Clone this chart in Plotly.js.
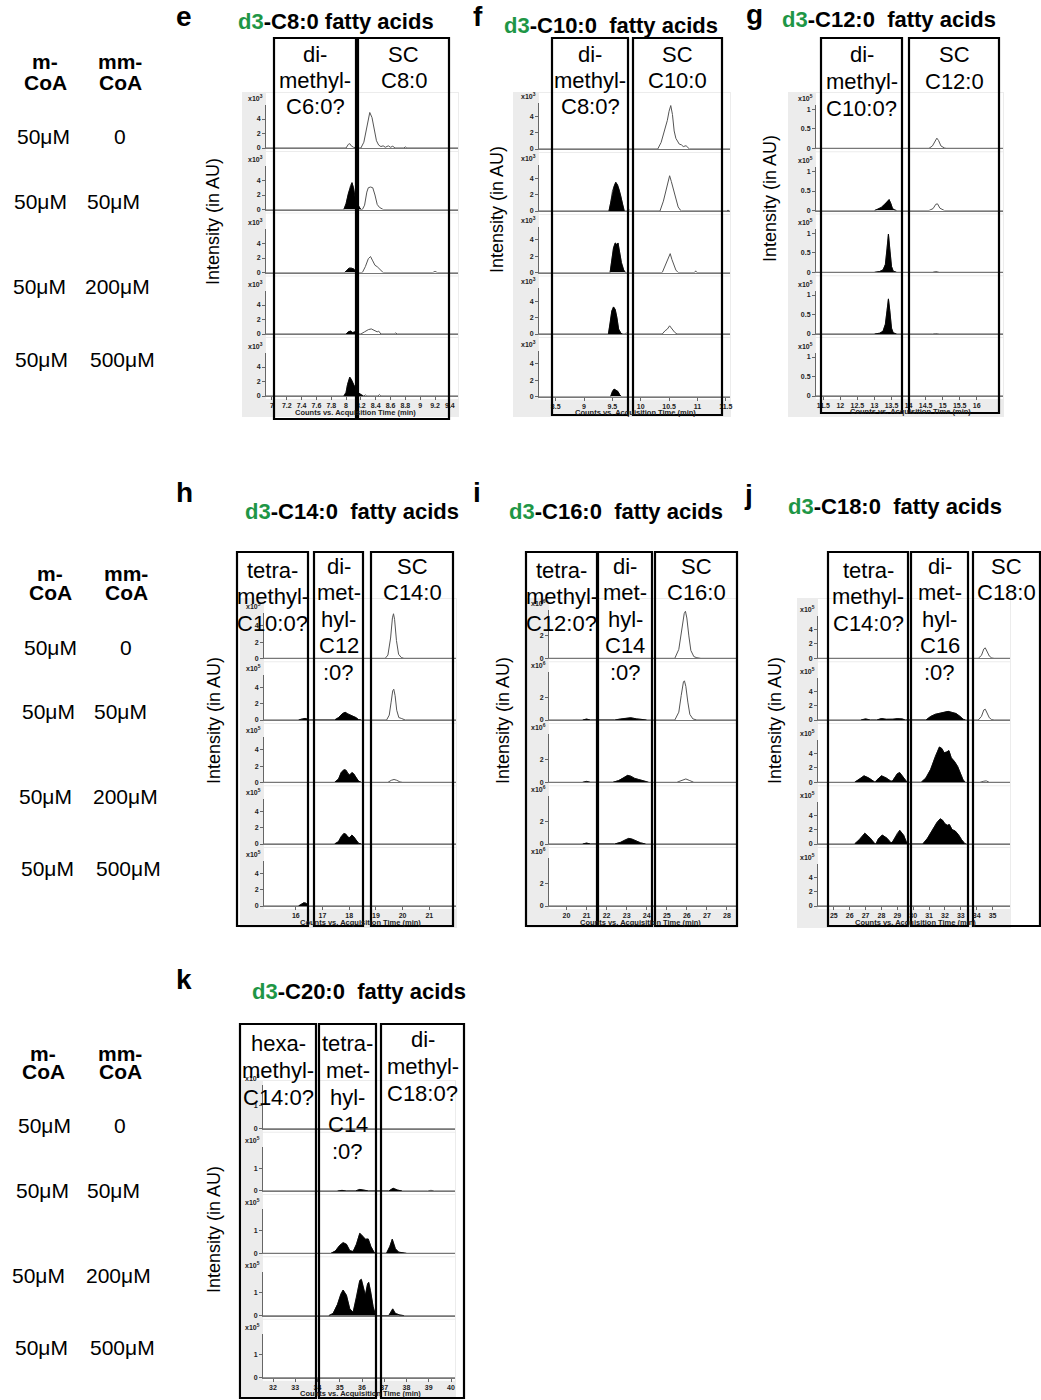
<!DOCTYPE html>
<html><head><meta charset="utf-8">
<script src="https://cdn.plot.ly/plotly-3.0.1.min.js"></script>
<style>body{margin:0;background:#fff}</style>
</head><body><div id="chart" style="width:1041px;height:1400px"></div>
<script>
// ---------------- DATA ----------------
const panelLetters = ['e','f','g','h','i','j','k'];
const panelCompounds = ['C8:0','C10:0','C12:0','C14:0','C16:0','C18:0','C20:0'];
const expLabels = ['3','3','5','5','6','5','5'];
const mCoA = ['50μM','50μM','50μM','50μM'];
const mmCoA = ['0','50μM','200μM','500μM'];
const yAxisTitle = 'Intensity (in AU)';
const xAxisTitle = 'Counts vs. Acquisition Time (min)';

const eBoxLabels = [['di-','methyl-','C6:0?'],['SC','C8:0']];
const fBoxLabels = [['di-','methyl-','C8:0?'],['SC','C10:0']];
const gBoxLabels = [['di-','methyl-','C10:0?'],['SC','C12:0']];
const hBoxLabels = [['tetra-','methyl-','C10:0?'],['di-','met-','hyl-','C12',':0?'],['SC','C14:0']];
const iBoxLabels = [['tetra-','methyl-','C12:0?'],['di-','met-','hyl-','C14',':0?'],['SC','C16:0']];
const jBoxLabels = [['tetra-','methyl-','C14:0?'],['di-','met-','hyl-','C16',':0?'],['SC','C18:0']];
const kBoxLabels = [['hexa-','methyl-','C14:0?'],['tetra-','met-','hyl-','C14',':0?'],['di-','methyl-','C18:0?']];

const eXticks = [7,7.2,7.4,7.6,7.8,8,8.2,8.4,8.6,8.8,9,9.2,9.4];
const fXticks = [8.5,9,9.5,10,10.5,11,11.5];
const gXticks = [11.5,12,12.5,13,13.5,14,14.5,15,15.5,16];
const hXticks = [16,17,18,19,20,21];
const iXticks = [20,21,22,23,24,25,26,27,28];
const jXticks = [25,26,27,28,29,30,31,32,33,34,35];
const kXticks = [32,33,34,35,36,37,38,39,40];

const eYticks = [0,2,4];
const fYticks = [0,2,4];
const gYticks = [0,0.5,1];
const hYticks = [0,2,4];
const iYticks = [0,2];
const jYticks = [0,2,4];
const kYticks = [0,1];

// chromatograms: [time (min), intensity] per row (5 stacked traces per panel)
const eLine = [
 [[8.0,0],[8.03,0.5],[8.05,0.6],[8.07,0.3],[8.1,0.1],[8.15,0],[8.2,0],[8.24,0.8],[8.28,2.8],[8.32,4.9],[8.35,4.2],[8.38,2.5],[8.41,1.0],[8.44,0.4],[8.47,0.2],[8.5,0.3],[8.53,0.1],[8.57,0.3],[8.6,0.1],[8.63,0.25],[8.66,0],[8.78,0],[8.8,0.15],[8.82,0]],
 [[8.22,0],[8.25,0.6],[8.28,2.4],[8.3,3.0],[8.33,3.1],[8.36,3.0],[8.39,2.0],[8.42,0.7],[8.45,0.3],[8.48,0.1],[8.5,0]],
 [[8.22,0],[8.26,0.8],[8.3,1.9],[8.33,2.2],[8.36,1.6],[8.39,1.0],[8.42,0.8],[8.45,0.5],[8.48,0.1],[8.5,0],[9.17,0],[9.2,0.15],[9.23,0]],
 [[8.2,0],[8.25,0.3],[8.3,0.6],[8.34,0.7],[8.38,0.5],[8.42,0.3],[8.44,0.4],[8.47,0],[8.65,0],[8.67,0.15],[8.69,0]],
 [[8.24,0],[8.26,0.15],[8.28,0],[8.43,0],[8.45,0.2],[8.47,0]]
];
const eFill = [
 [],
 [[7.97,0],[8.0,0.8],[8.03,2.2],[8.06,3.3],[8.08,3.7],[8.1,3.0],[8.12,1.8],[8.15,0.8],[8.18,0.3],[8.2,0]],
 [[7.98,0],[8.01,0.3],[8.04,0.6],[8.07,0.6],[8.1,0.5],[8.13,0.2],[8.17,0]],
 [[8.0,0],[8.03,0.3],[8.06,0.4],[8.09,0.2],[8.12,0.3],[8.16,0]],
 [[7.97,0],[8.0,0.5],[8.02,1.6],[8.05,2.6],[8.07,2.3],[8.1,1.6],[8.13,1.0],[8.16,0.5],[8.2,0.2],[8.23,0]]
];
const fLine = [
 [[10.3,0],[10.36,0.8],[10.42,2.2],[10.47,3.5],[10.5,4.6],[10.53,5.3],[10.56,4.2],[10.59,2.2],[10.62,1.3],[10.65,0.9],[10.68,0.6],[10.72,0.5],[10.75,0.3],[10.8,0.4],[10.83,0.2],[10.86,0]],
 [[9.78,0],[9.8,0.12],[9.82,0],[10.34,0],[10.4,1.2],[10.45,2.8],[10.49,3.8],[10.51,4.3],[10.54,3.6],[10.58,2.6],[10.62,1.4],[10.66,0.5],[10.7,0.1],[10.72,0],[11.52,0],[11.54,0.12],[11.56,0]],
 [[10.38,0],[10.44,0.9],[10.49,1.8],[10.52,2.3],[10.55,1.6],[10.58,1.0],[10.62,0.3],[10.66,0],[10.95,0],[10.97,0.2],[10.99,0]],
 [[9.73,0],[9.75,0.15],[9.77,0],[10.38,0],[10.43,0.4],[10.47,0.6],[10.51,1.0],[10.55,0.6],[10.6,0.2],[10.64,0]],
 []
];
const fFill = [
 [],
 [[9.44,0],[9.47,1.0],[9.5,2.4],[9.53,3.0],[9.56,3.5],[9.59,3.2],[9.62,2.6],[9.65,1.8],[9.68,0.8],[9.71,0]],
 [[9.46,0],[9.49,1.5],[9.52,3.0],[9.55,3.6],[9.58,3.4],[9.6,3.6],[9.63,2.5],[9.66,1.2],[9.7,0.3],[9.73,0]],
 [[9.43,0],[9.46,1.2],[9.49,2.8],[9.52,3.3],[9.55,3.0],[9.58,2.0],[9.61,0.6],[9.65,0.1],[9.68,0]],
 [[9.47,0],[9.5,0.6],[9.53,0.9],[9.56,0.8],[9.6,0.6],[9.63,0.2],[9.66,0]]
];
const gLine = [
 [[14.6,0],[14.7,0.06],[14.77,0.18],[14.83,0.26],[14.88,0.2],[14.95,0.06],[15.05,0.01],[15.1,0]],
 [[14.6,0],[14.72,0.05],[14.8,0.16],[14.85,0.17],[14.92,0.06],[15.0,0.01],[15.05,0]],
 [[14.7,0],[14.8,0.02],[14.9,0]],
 [[14.7,0],[14.8,0.01],[14.9,0]],
 [[13.4,0],[13.45,0.01],[13.5,0]]
];
const gFill = [
 [],
 [[13.0,0],[13.1,0.03],[13.2,0.08],[13.3,0.16],[13.38,0.25],[13.43,0.28],[13.48,0.18],[13.53,0.05],[13.6,0.01],[13.65,0]],
 [[13.0,0],[13.15,0.02],[13.25,0.06],[13.32,0.2],[13.37,0.6],[13.41,0.98],[13.45,0.6],[13.5,0.15],[13.55,0.03],[13.65,0]],
 [[13.0,0],[13.15,0.02],[13.25,0.07],[13.32,0.25],[13.37,0.6],[13.41,0.9],[13.45,0.6],[13.5,0.15],[13.55,0.03],[13.65,0]],
 []
];
const hLine = [
 [[19.35,0],[19.45,0.4],[19.55,2.5],[19.62,5.0],[19.66,5.5],[19.7,4.8],[19.77,2.2],[19.85,0.5],[19.95,0.1],[20.05,0]],
 [[19.4,0],[19.5,0.6],[19.57,2.2],[19.63,3.6],[19.67,3.8],[19.72,3.0],[19.78,1.2],[19.86,0.3],[19.95,0.2],[20.1,0]],
 [[19.45,0],[19.58,0.25],[19.68,0.35],[19.78,0.25],[19.9,0.05],[20.0,0]],
 [[19.5,0],[19.65,0.08],[19.8,0]],
 []
];
const hFill = [
 [],
 [[16.1,0],[16.25,0.15],[16.35,0.2],[16.45,0.1],[16.5,0],[17.45,0],[17.6,0.3],[17.75,0.8],[17.85,0.95],[17.95,0.75],[18.05,0.6],[18.15,0.55],[18.25,0.3],[18.35,0.05],[18.45,0]],
 [[17.45,0],[17.6,0.4],[17.7,1.2],[17.8,1.55],[17.88,1.5],[17.95,1.1],[18.02,0.9],[18.1,1.2],[18.17,1.05],[18.25,0.6],[18.35,0.15],[18.45,0]],
 [[17.45,0],[17.6,0.3],[17.7,0.9],[17.8,1.3],[17.88,1.2],[17.95,0.85],[18.02,0.8],[18.1,1.1],[18.17,0.9],[18.25,0.5],[18.35,0.1],[18.45,0]],
 [[16.1,0],[16.2,0.2],[16.3,0.4],[16.38,0.35],[16.45,0.2],[16.5,0]]
];
const iLine = [
 [[25.4,0],[25.6,0.8],[25.75,2.6],[25.87,4.0],[25.93,4.2],[26.0,3.6],[26.1,2.0],[26.2,0.7],[26.35,0.15],[26.5,0.05],[26.7,0]],
 [[25.4,0],[25.6,0.7],[25.72,2.2],[25.83,3.4],[25.88,3.5],[25.95,3.0],[26.05,1.6],[26.15,0.5],[26.3,0.1],[26.5,0]],
 [[25.5,0],[25.75,0.2],[25.95,0.3],[26.15,0.15],[26.35,0]],
 [[25.7,0],[25.9,0.05],[26.1,0]],
 [[19.85,0],[20.0,0.05],[20.15,0]]
];
const iFill = [
 [],
 [[20.8,0],[21.0,0.08],[21.2,0],[22.4,0],[22.7,0.1],[23.0,0.2],[23.2,0.2],[23.5,0.1],[23.8,0.03],[24.0,0]],
 [[20.8,0],[21.0,0.08],[21.2,0],[22.3,0],[22.6,0.15],[22.85,0.4],[23.05,0.62],[23.2,0.55],[23.4,0.35],[23.6,0.25],[23.85,0.1],[24.1,0]],
 [[20.8,0],[21.0,0.08],[21.2,0],[22.4,0],[22.7,0.15],[22.9,0.35],[23.1,0.5],[23.25,0.45],[23.45,0.3],[23.7,0.1],[23.95,0]],
 []
];
const jLine = [
 [[34.1,0],[34.3,0.4],[34.45,1.3],[34.54,1.45],[34.65,1.0],[34.8,0.3],[34.95,0.05],[35.1,0]],
 [[34.1,0],[34.3,0.5],[34.45,1.4],[34.54,1.5],[34.65,1.0],[34.8,0.3],[34.95,0.05],[35.1,0]],
 [[34.2,0],[34.45,0.15],[34.6,0.2],[34.8,0]],
 [],
 []
];
const jFill = [
 [],
 [[26.7,0],[27.0,0.15],[27.3,0],[27.7,0],[28.0,0.2],[28.3,0.1],[28.7,0.1],[29.0,0.2],[29.3,0.15],[29.5,0],[30.8,0],[31.1,0.5],[31.4,0.8],[31.7,0.95],[32.0,1.1],[32.2,1.2],[32.45,1.05],[32.7,0.9],[32.95,0.5],[33.15,0.1],[33.3,0]],
 [[26.3,0],[26.6,0.4],[26.9,0.9],[27.2,0.6],[27.5,0.1],[27.6,0],[27.7,0.3],[28.0,0.9],[28.3,0.6],[28.6,0.15],[28.7,0.2],[29.0,1.2],[29.15,1.35],[29.4,0.7],[29.6,0.05],[29.7,0],[30.5,0],[30.8,0.6],[31.1,1.8],[31.4,3.6],[31.65,4.9],[31.8,4.7],[31.95,4.1],[32.1,4.2],[32.25,4.4],[32.4,3.4],[32.6,2.9],[32.8,2.2],[33.0,1.0],[33.15,0.3],[33.3,0]],
 [[26.3,0],[26.6,0.6],[26.95,1.5],[27.3,0.8],[27.55,0.1],[27.65,0],[27.8,0.7],[28.05,1.25],[28.35,0.8],[28.6,0.15],[28.7,0.3],[29.0,1.5],[29.15,1.9],[29.4,1.2],[29.6,0.1],[29.7,0],[30.6,0],[30.9,0.8],[31.2,2.0],[31.5,3.0],[31.7,3.5],[31.85,3.3],[32.0,2.8],[32.15,2.6],[32.28,2.7],[32.45,2.0],[32.65,1.8],[32.85,1.3],[33.05,0.6],[33.25,0.05],[33.35,0]],
 []
];
const kLine = [
 [[38.95,0],[39.1,0.02],[39.25,0]],
 [[38.95,0],[39.1,0.03],[39.25,0]],
 [],
 [],
 []
];
const kFill = [
 [],
 [[34.9,0],[35.1,0.03],[35.3,0],[35.7,0],[35.9,0.07],[36.1,0.05],[36.3,0],[37.2,0],[37.4,0.12],[37.6,0.04],[37.8,0]],
 [[34.6,0],[34.8,0.1],[35.0,0.35],[35.15,0.47],[35.3,0.4],[35.45,0.12],[35.6,0.08],[35.75,0.4],[35.9,0.88],[36.05,0.75],[36.15,0.62],[36.28,0.63],[36.4,0.3],[36.55,0.03],[36.65,0],[37.1,0],[37.25,0.3],[37.36,0.62],[37.5,0.2],[37.65,0.05],[37.8,0.03],[38.0,0]],
 [[34.5,0],[34.7,0.1],[34.9,0.5],[35.05,0.95],[35.15,1.13],[35.3,0.9],[35.45,0.3],[35.6,0.15],[35.75,0.8],[35.9,1.55],[35.97,1.6],[36.05,1.3],[36.15,0.9],[36.25,1.4],[36.3,1.47],[36.38,1.1],[36.5,0.4],[36.6,0.05],[36.7,0],[37.2,0],[37.3,0.2],[37.38,0.3],[37.5,0.1],[37.7,0.03],[37.9,0]],
 []
];

// ---------------- LAYOUT GEOMETRY ----------------
const FONT = 'Liberation Sans, Arial, Helvetica, sans-serif';
const W = 1041, H = 1400;
const px = v => v / W, py = v => 1 - v / H;
const GREEN = '#1e9646';

const G = [
 {yax:266,right:458,greyL:242,top:92,bot:417,zeros:[148,209.5,272.5,334,396],ppu:7.25,yTop:6,xr:[6.92,9.51],
  boxes:[[274,38,356,419],[358,38,449,419]], boxTY:[55,55], boxStep:26, title:[336,22], letter:[184,17], ylab:[213,222], xlab:[355,413]},
 {yax:539,right:730,greyL:513,top:92,bot:417,zeros:[149,211,272.5,334,396.5],ppu:8.2,yTop:5.6,xr:[8.206,11.575],
  boxes:[[552,38,628,415],[633,38,722,415]], boxTY:[55,55], boxStep:26, title:[611,25], letter:[478,17], ylab:[497,210], xlab:[635,413]},
 {yax:816,right:1003,greyL:788,top:92,bot:417,zeros:[148.3,210.5,272.3,334,396],ppu:39,yTop:1.11,xr:[11.286,16.77],
  boxes:[[821,38,902,413],[909,38,999,413]], boxTY:[55,55], boxStep:26.5, title:[889,20], letter:[754,15], ylab:[770,199], xlab:[910,411]},
 {yax:264,right:456,greyL:240,top:598,bot:928,zeros:[658.3,720,782.3,844,906],ppu:8.1,yTop:5.6,xr:[14.81,22.0],
  boxes:[[237,552,308,926],[314,552,363,926],[371,552,453,926]], boxTY:[570,566,566], boxStep:26.5, title:[352,512], letter:[184,492], ylab:[214,721], xlab:[360,922]},
 {yax:549,right:737,greyL:527,top:598,bot:928,zeros:[658.3,720,782.3,844,906],ppu:11.2,yTop:4.3,xr:[19.13,28.5],
  boxes:[[526,552,597,926],[598,552,652,926],[655,552,737,926]], boxTY:[570,566,566], boxStep:26.5, title:[616,512], letter:[477,492], ylab:[503,721], xlab:[640,922]},
 {yax:818,right:1010,greyL:797,top:598,bot:928,zeros:[658.3,720,782.3,844,906],ppu:7.2,yTop:5.9,xr:[24.0,36.1],
  boxes:[[828,552,908,926],[911,552,968,926],[973,552,1040,926]], boxTY:[570,566,566], boxStep:26.5, title:[895,507], letter:[748,494], ylab:[775,721], xlab:[915,922]},
 {yax:263,right:455,greyL:242,top:1080,bot:1398,zeros:[1128.7,1191,1253.3,1315.7,1377.7],ppu:22.7,yTop:1.93,xr:[31.55,40.18],
  boxes:[[240,1024,316,1398],[319,1024,376,1398],[381,1024,464,1398]], boxTY:[1043,1043,1039], boxStep:27, title:[359,991], letter:[184,980], ylab:[214,1230], xlab:[360,1393]}
];
const panelData = [
 {line:eLine, fill:eFill, xt:eXticks, yt:eYticks, box:eBoxLabels},
 {line:fLine, fill:fFill, xt:fXticks, yt:fYticks, box:fBoxLabels},
 {line:gLine, fill:gFill, xt:gXticks, yt:gYticks, box:gBoxLabels},
 {line:hLine, fill:hFill, xt:hXticks, yt:hYticks, box:hBoxLabels},
 {line:iLine, fill:iFill, xt:iXticks, yt:iYticks, box:iBoxLabels},
 {line:jLine, fill:jFill, xt:jXticks, yt:jYticks, box:jBoxLabels},
 {line:kLine, fill:kFill, xt:kXticks, yt:kYticks, box:kBoxLabels}
];
const concGroups = [
 {hx:[45,120], hy:[61,82], rows:[[43,120,136],[40,113,201],[39,117,286],[41,122,359]]},
 {hx:[50,126], hy:[574,592], rows:[[50,126,647],[48,120,711],[45,125,796],[47,128,868]]},
 {hx:[43,120], hy:[1053,1071], rows:[[44,120,1125],[42,113,1190],[38,118,1275],[41,122,1347]]}
];

const layout = {width:W, height:H, margin:{l:0,r:0,t:0,b:0}, paper_bgcolor:'#fff', plot_bgcolor:'rgba(0,0,0,0)',
  showlegend:false, shapes:[], annotations:[], font:{family:FONT, color:'#000'}};
const traces = [];
function ann(x, y, text, size, o) {
  layout.annotations.push(Object.assign({xref:'paper', yref:'paper', x:px(x), y:py(y), text:text, showarrow:false,
    xanchor:'center', yanchor:'middle', font:{family:FONT, size:size, color:'#000'}}, o||{}));
}

G.forEach((g, p) => {
  const d = panelData[p];
  layout.shapes.push({type:'rect', xref:'paper', yref:'paper', x0:px(g.greyL), x1:px(g.right+1), y0:py(g.bot), y1:py(g.top),
    fillcolor:'#ececec', line:{width:0}, layer:'below'});
  for (let r = 0; r < 5; r++) {
    const n = p*5 + r + 1, s = n === 1 ? '' : String(n);
    const z = g.zeros[r];
    const wTop = r === 0 ? g.top + 1 : g.zeros[r-1] + 4;
    layout.shapes.push({type:'rect', xref:'paper', yref:'paper', x0:px(g.yax), x1:px(g.right), y0:py(z+3), y1:py(wTop),
      fillcolor:'#ffffff', line:{width:0}, layer:'below'});
    const bottom = r === 4;
    const xa = {domain:[px(g.yax), px(g.right)], range:g.xr, anchor:'y'+s, showgrid:false, zeroline:false,
      showline:true, linecolor:'#777', linewidth:1, showticklabels:bottom, fixedrange:true};
    if (bottom) Object.assign(xa, {ticks:'outside', ticklen:3, tickcolor:'#666', tickmode:'array', tickvals:d.xt,
      ticktext:d.xt.map(String), tickfont:{family:FONT, size:7, color:'#222', weight:'bold'}});
    else Object.assign(xa, {ticks:'', tickmode:'array', tickvals:[]});
    layout['xaxis'+s] = xa;
    layout['yaxis'+s] = {domain:[py(z), py(z - g.yTop*g.ppu)], range:[0, g.yTop], anchor:'x'+s, showgrid:false, zeroline:false,
      showline:true, linecolor:'#666', linewidth:1, ticks:'outside', ticklen:3, tickcolor:'#666', tickmode:'array',
      tickvals:d.yt, ticktext:d.yt.map(String), tickfont:{family:FONT, size:7, color:'#222', weight:'bold'}, fixedrange:true};
    ann(g.yax - 1, z - g.yTop*g.ppu - 1, 'x10<sup>' + expLabels[p] + '</sup>', 7, {xanchor:'right', yanchor:'bottom',
      font:{family:FONT, size:7, color:'#222', weight:'bold'}});
    const pts = d.line[r].concat(d.fill[r]).sort((a,b) => a[0]-b[0]);
    traces.push({type:'scatter', mode:'lines', xaxis:'x'+s, yaxis:'y'+s,
      x:[g.xr[0]].concat(pts.map(q=>q[0]), [g.xr[1]]), y:[0].concat(pts.map(q=>q[1]), [0]),
      line:{color:'#555', width:1}, hoverinfo:'skip'});
    if (d.fill[r].length) {
      traces.push({type:'scatter', mode:'lines', xaxis:'x'+s, yaxis:'y'+s, fill:'tozeroy', fillcolor:'#000',
        x:d.fill[r].map(q=>q[0]), y:d.fill[r].map(q=>q[1]), line:{color:'#000', width:0.8}, hoverinfo:'skip'});
    }
  }
  g.boxes.forEach((b, bi) => {
    layout.shapes.push({type:'rect', xref:'paper', yref:'paper', x0:px(b[0]), x1:px(b[2]), y0:py(b[3]), y1:py(b[1]),
      line:{color:'#000', width:2.2}, fillcolor:'rgba(0,0,0,0)', layer:'above'});
    const cx = (b[0] + b[2]) / 2;
    d.box[bi].forEach((t, li) => ann(cx, g.boxTY[bi] + li*g.boxStep, t, 22));
  });
  ann(g.title[0], g.title[1], '<b><span style="color:' + GREEN + '">d3</span>-' + panelCompounds[p] + (p === 0 ? ' ' : '&nbsp; ') + 'fatty acids</b>', 22);
  ann(g.letter[0], g.letter[1], '<b>' + panelLetters[p] + '</b>', 28);
  ann(g.ylab[0], g.ylab[1], yAxisTitle, 18, {textangle:-90});
  ann(g.xlab[0], g.xlab[1], '<b>' + xAxisTitle + '</b>', 7.5, {font:{family:FONT, size:7.5, color:'#222'}});
});

concGroups.forEach(cg => {
  ann(cg.hx[0], cg.hy[0], '<b>m-</b>', 21);
  ann(cg.hx[0], cg.hy[1], '<b>CoA</b>', 21);
  ann(cg.hx[1], cg.hy[0], '<b>mm-</b>', 21);
  ann(cg.hx[1], cg.hy[1], '<b>CoA</b>', 21);
  cg.rows.forEach((r, i) => {
    ann(r[0], r[2], mCoA[i], 21);
    ann(r[1], r[2], mmCoA[i], 21);
  });
});

Plotly.newPlot('chart', traces, layout, {staticPlot:true, displayModeBar:false});
</script></body></html>
